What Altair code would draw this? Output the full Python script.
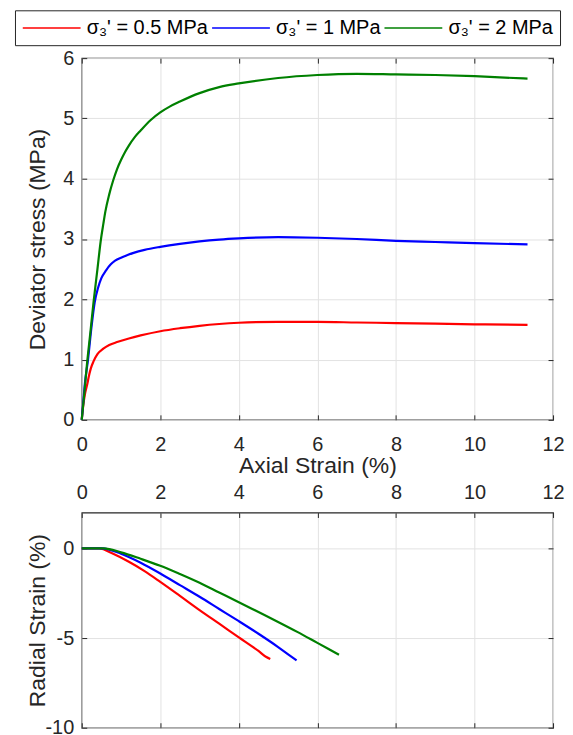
import altair as alt
import pandas as pd

FONT = "Liberation Sans"
TXT = "#262626"
GRID = "#e2e2e2"

series_names = ["σ₃' = 0.5 MPa", "σ₃' = 1 MPa", "σ₃' = 2 MPa"]
series_colors = ["#ff0000", "#0000ff", "#008000"]

# ---- Deviator stress (MPa) vs axial strain (%) ----
red_dev_x = [0, 0.04, 0.08, 0.14, 0.18, 0.23, 0.3, 0.4, 0.55, 0.7, 0.9, 1.2, 1.5, 2.0, 2.5, 3.0, 3.5, 4.0, 5.0, 6.0, 7.0, 8.0, 9.0, 10.0, 11.35]
red_dev_y = [0, 0.25, 0.42, 0.59, 0.72, 0.85, 0.97, 1.09, 1.18, 1.24, 1.29, 1.35, 1.40, 1.47, 1.52, 1.56, 1.59, 1.61, 1.625, 1.625, 1.615, 1.605, 1.595, 1.585, 1.575]

blue_dev_x = [0, 0.04, 0.08, 0.16, 0.25, 0.33, 0.42, 0.5, 0.62, 0.74, 0.85, 1.0, 1.15, 1.32, 1.6, 2.0, 2.5, 3.0, 3.5, 4.0, 5.0, 6.0, 7.0, 8.0, 9.0, 10.0, 11.35]
blue_dev_y = [0, 0.3, 0.6, 1.0, 1.55, 1.95, 2.2, 2.35, 2.48, 2.58, 2.64, 2.69, 2.73, 2.77, 2.82, 2.87, 2.92, 2.96, 2.99, 3.01, 3.03, 3.02, 3.00, 2.97, 2.95, 2.93, 2.91]

green_dev_x = [0, 0.06, 0.13, 0.22, 0.3, 0.4, 0.48, 0.55, 0.6, 0.7, 0.8, 0.9, 1.0, 1.1, 1.2, 1.35, 1.5, 1.75, 2.0, 2.25, 2.5, 3.0, 3.5, 4.0, 5.0, 6.0, 7.0, 8.0, 9.0, 10.0, 11.35]
green_dev_y = [0, 0.4, 0.9, 1.45, 1.95, 2.5, 2.95, 3.25, 3.45, 3.74, 3.97, 4.16, 4.31, 4.44, 4.55, 4.69, 4.8, 4.97, 5.1, 5.2, 5.28, 5.42, 5.52, 5.58, 5.67, 5.72, 5.74, 5.73, 5.72, 5.70, 5.66]

# ---- Radial strain (%) vs axial strain (%) ----
red_rad_x = [0, 0.44, 0.8, 1.2, 1.6, 2.0, 2.5, 3.0, 3.5, 4.0, 4.5, 4.7, 4.8]
red_rad_y = [0, 0, -0.3, -0.75, -1.27, -1.87, -2.65, -3.44, -4.2, -4.96, -5.72, -6.06, -6.17]

blue_rad_x = [0, 0.52, 1.0, 1.5, 2.0, 2.5, 3.0, 3.5, 4.0, 4.5, 5.0, 5.3, 5.47]
blue_rad_y = [0, 0, -0.3, -0.8, -1.4, -2.05, -2.7, -3.38, -4.06, -4.76, -5.5, -5.98, -6.24]

green_rad_x = [0, 0.56, 1.0, 1.5, 2.0, 2.5, 3.0, 3.5, 4.0, 4.5, 5.0, 5.5, 6.0, 6.55]
green_rad_y = [0, 0, -0.22, -0.58, -0.97, -1.43, -1.92, -2.46, -3.0, -3.55, -4.1, -4.67, -5.27, -5.93]

x_ticks = [0, 2, 4, 6, 8, 10, 12]
dev_ticks = [0, 1, 2, 3, 4, 5, 6]
rad_ticks = [-10, -5, 0]


def long_df(xs_list, ys_list):
    rows = []
    for name, xs, ys in zip(series_names, xs_list, ys_list):
        for i, (xv, yv) in enumerate(zip(xs, ys)):
            rows.append({"series": name, "x": xv, "y": yv, "i": i})
    return pd.DataFrame(rows)


dev_df = long_df([red_dev_x, blue_dev_x, green_dev_x], [red_dev_y, blue_dev_y, green_dev_y])
rad_df = long_df([red_rad_x, blue_rad_x, green_rad_x], [red_rad_y, blue_rad_y, green_rad_y])

NEG = {"expr": "-5"}
base_axis = dict(
    labelFont=FONT, titleFont=FONT, labelColor=TXT, titleColor=TXT,
    labelFontSize=20, titleFontSize=23, titleFontWeight="normal",
    domain=False, gridColor=GRID, gridWidth=1, tickColor=TXT, tickWidth=1,
    tickSize=NEG, labelFlush=False, labelExpr="'' + datum.value",
)
blank_axis = dict(base_axis, labels=False, title=None, grid=False)

xscale = alt.Scale(domain=[0, 12], nice=False, zero=False)
dev_scale = alt.Scale(domain=[0, 6], nice=False)
rad_scale = alt.Scale(domain=[-10, 2], nice=False)

color = alt.Color(
    "series:N",
    scale=alt.Scale(domain=series_names, range=series_colors),
    sort=series_names,
    legend=alt.Legend(
        orient="none", legendX=-67, legendY=-48, direction="horizontal",
        title=None, symbolType="M-1,0H5", symbolSize=374, symbolStrokeWidth=1.6,
        labelFont=FONT, labelFontSize=20, labelColor="#000000", labelOffset=44,
        columnPadding=0, padding=7, strokeColor="#262626", fillColor="white",
        labelLimit=300,
    ),
)

W = 473
top_lines = alt.Chart(dev_df).mark_line(strokeWidth=2.2, interpolate="monotone").encode(
    x=alt.X("x:Q", scale=xscale, axis=alt.Axis(values=x_ticks, title="Axial Strain (%)", labelPadding=20, titlePadding=0, **base_axis)),
    y=alt.Y("y:Q", scale=dev_scale, axis=alt.Axis(values=dev_ticks, title="Deviator stress (MPa)", labelPadding=13, titleX=-32, **base_axis)),
    color=color,
    order="i:Q",
)
top_frame = alt.Chart(dev_df).mark_line(opacity=0).encode(
    x=alt.X("x:Q", scale=xscale, axis=alt.Axis(orient="top", values=x_ticks, **blank_axis)),
    y=alt.Y("y:Q", scale=dev_scale, axis=alt.Axis(orient="right", values=dev_ticks, **blank_axis)),
    detail="series:N",
)
top = alt.layer(top_lines, top_frame).resolve_axis(x="independent", y="independent").properties(width=W, height=363)

bot_lines = alt.Chart(rad_df).mark_line(strokeWidth=2.2, interpolate="monotone").encode(
    x=alt.X("x:Q", scale=xscale, axis=alt.Axis(orient="top", values=x_ticks, title=None, labelPadding=15, **base_axis)),
    y=alt.Y("y:Q", scale=rad_scale, axis=alt.Axis(values=rad_ticks, title="Radial Strain (%)", labelPadding=13, titleX=-32, **base_axis)),
    color=alt.Color("series:N", scale=alt.Scale(domain=series_names, range=series_colors), legend=None),
    order="i:Q",
)
bot_frame = alt.Chart(rad_df).mark_line(opacity=0).encode(
    x=alt.X("x:Q", scale=xscale, axis=alt.Axis(orient="bottom", values=x_ticks, **blank_axis)),
    y=alt.Y("y:Q", scale=rad_scale, axis=alt.Axis(orient="right", values=rad_ticks, **blank_axis)),
    detail="series:N",
)
bottom = alt.layer(bot_lines, bot_frame).resolve_axis(x="independent", y="independent").properties(width=W, height=216)

chart = alt.vconcat(top, bottom, spacing=93, bounds="flush").properties(
    padding={"left": 6, "top": 0, "right": 0, "bottom": 0},
    background="white",
).configure_view(stroke="#262626", strokeWidth=1.2)

chart.save("out.html", embed_options={"renderer": "svg", "actions": False})
